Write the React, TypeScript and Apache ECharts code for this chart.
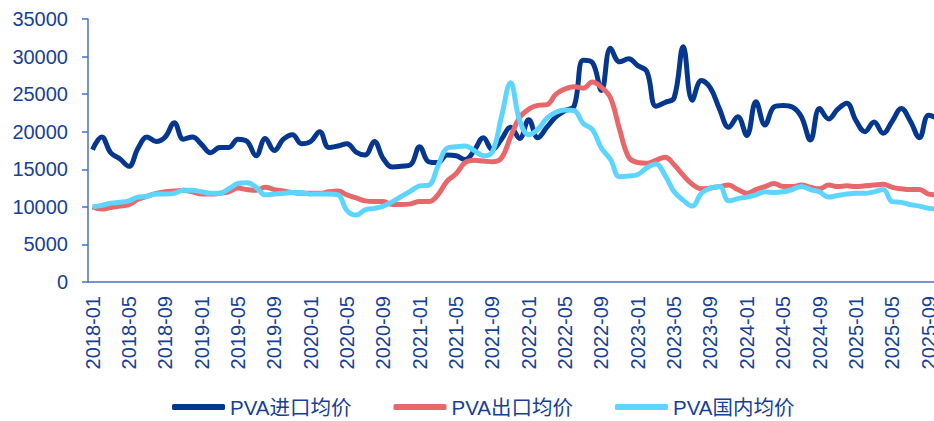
import React, { useEffect, useRef } from "react";
import * as echarts from "echarts";

// Monthly categories, 2018-01 through 2025-10
const startYear = 2018;
const monthCount = 94;
const months: string[] = [];
for (let k = 0; k < monthCount; k++) {
  const y = startYear + Math.floor(k / 12);
  const m = (k % 12) + 1;
  months.push(`${y}-${m < 10 ? "0" + m : m}`);
}

const seriesNames = ["PVA进口均价", "PVA出口均价", "PVA国内均价"];

// PVA import average price
const importPrice = [
  17600, 19300, 17200, 16400, 15400, 17800, 19300, 18700, 19300, 21200,
  19000, 19300, 18300, 17200, 17900, 17900, 19000, 18700, 16800, 19100,
  17500, 19000, 19600, 18400, 18700, 20000, 17900, 18100, 18400, 17300,
  16900, 18700, 16400, 15300, 15400, 15600, 18000, 16000, 15900, 16900,
  16800, 16300, 17500, 19200, 17600, 19000, 20600, 19100, 21600, 19200,
  20600, 22000, 22800, 23400, 29500, 29200, 25500, 31100, 29300, 29700,
  28800, 28000, 23400, 23900, 24500, 31300, 24200, 26800, 25800, 23000,
  20600, 22000, 19500, 24000, 20900, 23300, 23500, 23300, 22000, 18900,
  23100, 21700, 23000, 23800, 21500, 20000, 21300, 19800, 21400, 23100,
  21400, 19200, 22200, 21800,
];

// PVA export average price
const exportPrice = [
  10000, 9700, 9900, 10100, 10300, 11000, 11400, 11800, 12000, 12100,
  12200, 12000, 11700, 11700, 11800, 12000, 12500, 12300, 12200, 12600,
  12300, 12100, 11900, 11800, 11800, 11800, 12000, 12100, 11600, 11200,
  10800, 10700, 10700, 10300, 10300, 10400, 10700, 10700, 11600, 13400,
  14400, 15900, 16200, 16100, 16000, 16500, 19300, 21900, 23000, 23500,
  23600, 25000, 25700, 26000, 25800, 26600, 25900, 24500, 20300, 16600,
  15900, 15800, 16200, 16600, 15600, 14200, 13000, 12400, 12500, 12700,
  12900, 12300, 11800, 12300, 12700, 13100, 12700, 12700, 12900, 12600,
  12400, 12900, 12700, 12800, 12700, 12800, 12900, 13000, 12600, 12400,
  12300, 12300, 11700, 11600,
];

// PVA domestic average price
const domesticPrice = [
  10000, 10200, 10500, 10600, 10800, 11300, 11400, 11700, 11700, 11800,
  12200, 12200, 12000, 11800, 11800, 12400, 13100, 13200, 12600, 11600,
  11700, 11800, 11900, 11900, 11700, 11700, 11700, 11600, 9500, 8900,
  9600, 9800, 10100, 10700, 11400, 12100, 12800, 12900, 15400, 17800,
  18000, 18100, 17500, 16800, 17300, 22000, 26500, 21500, 19600, 20300,
  21800, 22600, 22900, 22800, 21100, 20300, 17800, 16300, 14000, 14100,
  14300, 15200, 15700, 14200, 12000, 10900, 10100, 11800, 12500, 12700,
  10800, 11100, 11300, 11600, 12000, 11900, 12000, 12300, 12700, 12300,
  12000, 11300, 11500, 11700, 11800, 11800, 12000, 12300, 10700, 10600,
  10300, 10100, 9800, 9700,
];

const colors = ["#05378F", "#E8676A", "#5DD5FF"];
const axisColor = "#4472C4";
const textColor = "#173F98";
const fontFamily = "'Liberation Sans', Arial, 'Noto Sans CJK SC', sans-serif";

export default function App() {
  const ref = useRef<HTMLDivElement>(null);

  useEffect(() => {
    if (!ref.current) return;
    const chart = echarts.init(ref.current, undefined, { renderer: "svg" });
    const dataSets = [importPrice, exportPrice, domesticPrice];
    chart.setOption({
      animation: false,
      color: colors,
      grid: { left: 88, top: 19, width: 854.2, height: 263, containLabel: false },
      legend: {
        left: 172,
        top: 396,
        padding: 0,
        icon: "roundRect",
        itemWidth: 53,
        itemHeight: 6,
        itemGap: 42,
        textStyle: { fontSize: 20.5, color: textColor, fontFamily, lineHeight: 22 },
        data: seriesNames,
      },
      xAxis: {
        type: "category",
        data: months,
        boundaryGap: true,
        axisLine: { lineStyle: { color: axisColor, width: 1.5 } },
        axisTick: { interval: 3, length: 5, lineStyle: { color: axisColor, width: 1.5 } },
        axisLabel: {
          interval: 3,
          rotate: 90,
          margin: 14,
          fontSize: 20,
          color: textColor,
          fontFamily,
        },
        splitLine: { show: false },
      },
      yAxis: {
        type: "value",
        min: 0,
        max: 35000,
        interval: 5000,
        axisLine: { show: true, lineStyle: { color: axisColor, width: 1.5 } },
        axisTick: { show: true, length: 6, lineStyle: { color: axisColor, width: 1.5 } },
        axisLabel: {
          margin: 20,
          fontSize: 20,
          color: textColor,
          fontFamily,
          formatter: (v: number) => String(v),
        },
        splitLine: { show: false },
      },
      series: seriesNames.map((name, i) => ({
        name,
        type: "line",
        data: dataSets[i],
        smooth: 0.4,
        symbol: "none",
        lineStyle: { width: 5, color: colors[i] },
        itemStyle: { color: colors[i] },
      })),
    });
    return () => chart.dispose();
  }, []);

  return (
    <div
      style={{
        position: "fixed",
        left: 0,
        top: 0,
        width: 934,
        height: 421,
        overflow: "hidden",
        background: "#fff",
      }}
    >
      <div ref={ref} style={{ width: 960, height: 421 }} />
    </div>
  );
}
